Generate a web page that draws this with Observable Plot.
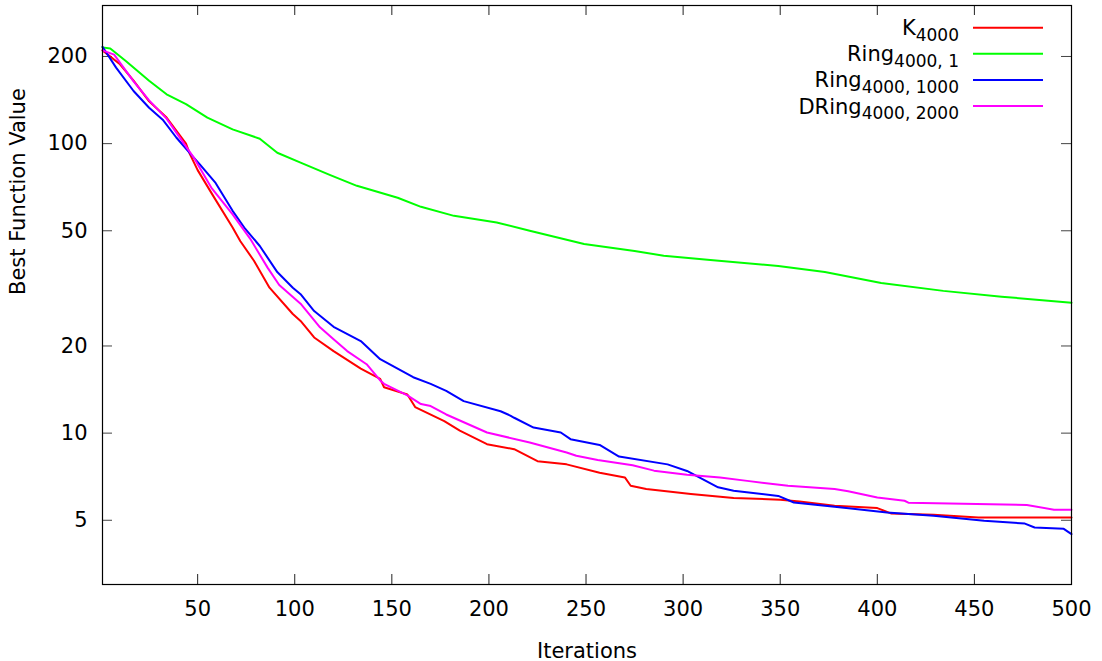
<!DOCTYPE html>
<html>
<head>
<meta charset="utf-8">
<script src="https://cdn.jsdelivr.net/npm/d3@7"></script>
<script src="https://cdn.jsdelivr.net/npm/@observablehq/plot@0.6"></script>
<style>
  html, body { margin: 0; padding: 0; background: #fff; }
  #chart svg { display: block; }
</style>
</head>
<body>
<div id="chart"></div>
<script>
// ---- data ----
const seriesNames = ["K", "Ring", "Ring", "DRing"];
const seriesSubs = ["4000", "4000, 1", "4000, 1000", "4000, 2000"];
const seriesColors = ["#ff0000", "#00ff00", "#0000ff", "#ff00ff"];

const kIt  = [1, 10, 17, 25, 34, 44, 46, 50, 58, 68, 72, 79, 87, 99, 103, 110, 120, 134, 144, 146, 158, 162, 177, 185, 199, 213, 225, 240, 257, 270, 273, 281, 304, 326, 350, 360, 378, 400, 407, 429, 452, 500];
const kVal = [210, 188, 165, 140, 123, 100, 92, 81, 66, 51.3, 46, 39.4, 31.8, 25.8, 24.4, 21.4, 19.2, 16.7, 15.4, 14.4, 13.6, 12.3, 11.0, 10.2, 9.16, 8.8, 8.0, 7.8, 7.3, 7.03, 6.58, 6.41, 6.16, 5.97, 5.89, 5.80, 5.61, 5.51, 5.28, 5.22, 5.11, 5.11];

const ring1It  = [1, 5, 13, 25, 34, 44, 55, 68, 82, 91, 103, 118, 132, 153, 165, 182, 204, 221, 249, 275, 290, 314, 349, 373, 402, 434, 464, 500];
const ring1Val = [215, 213, 193, 165, 148, 137, 123, 112, 104, 93, 86, 78, 71.5, 65, 60.5, 56.3, 53.4, 50, 45, 42.6, 41, 39.6, 37.8, 36, 33, 31, 29.6, 28.2];

const ring1000It  = [1, 8, 17, 25, 32, 39, 48, 51, 59, 68, 74, 82, 91, 99, 103, 110, 120, 134, 144, 161, 170, 178, 187, 206, 211, 213, 223, 237, 242, 257, 267, 292, 302, 318, 326, 349, 357, 378, 405, 429, 455, 476, 481, 496, 500];
const ring1000Val = [216, 183, 152, 133, 121, 105, 89.5, 85, 73.5, 58.6, 51.3, 44.3, 36, 31.8, 30.2, 26.4, 23.3, 20.8, 18.0, 15.6, 14.8, 14.0, 12.9, 11.9, 11.5, 11.3, 10.45, 10.05, 9.53, 9.1, 8.3, 7.8, 7.4, 6.5, 6.32, 6.07, 5.76, 5.57, 5.32, 5.18, 4.98, 4.87, 4.72, 4.67, 4.48];

const dring2000It  = [1, 7, 17, 25, 34, 48, 57, 68, 77, 86, 92, 103, 113, 120, 127, 137, 144, 146, 158, 165, 170, 178, 199, 221, 240, 245, 256, 274, 285, 302, 319, 333, 354, 378, 385, 400, 414, 416, 477, 491, 500];
const dring2000Val = [210, 203, 164, 141, 122, 89.5, 70.5, 57, 47, 37.3, 32.5, 28, 23.2, 21.1, 19.2, 17.3, 15.2, 14.8, 13.5, 12.6, 12.4, 11.6, 10.05, 9.28, 8.57, 8.35, 8.07, 7.75, 7.42, 7.18, 7.03, 6.84, 6.58, 6.41, 6.30, 5.99, 5.84, 5.75, 5.65, 5.44, 5.44];

const xTicks = [50, 100, 150, 200, 250, 300, 350, 400, 450, 500];
const yTicks = [5, 10, 20, 50, 100, 200];

// ---- build tables ----
const allIts = [kIt, ring1It, ring1000It, dring2000It];
const allVals = [kVal, ring1Val, ring1000Val, dring2000Val];
const series = allIts.map((its, s) => its.map((it, i) => ({it, v: allVals[s][i]})));

// ---- layout ----
const W = 1102, H = 661;
const mL = 102, mR = 31, mT = 5, mB = 77;
const frameW = W - mL - mR, frameH = H - mT - mB;
const tick = 10;
const font = "DejaVu Sans, Liberation Sans, sans-serif";

const chart = Plot.plot({
  width: W,
  height: H,
  marginLeft: mL,
  marginRight: mR,
  marginTop: mT,
  marginBottom: mB,
  style: {fontFamily: font, fontSize: "21px", background: "#fff", color: "#000"},
  x: {domain: [1, 500]},
  y: {type: "log", domain: [3, 300]},
  marks: [
    // inward tick marks on all four sides
    Plot.tickX(xTicks, {x: d => d, insetTop: frameH - tick, stroke: "#222", strokeWidth: 1}),
    Plot.tickX(xTicks, {x: d => d, insetBottom: frameH - tick, stroke: "#222", strokeWidth: 1}),
    Plot.tickY(yTicks, {y: d => d, insetRight: frameW - tick, stroke: "#444", strokeWidth: 1}),
    Plot.tickY(yTicks, {y: d => d, insetLeft: frameW - tick, stroke: "#444", strokeWidth: 1}),
    Plot.axisX(xTicks, {tickSize: 0, tickPadding: 17, label: null, tickFormat: d => String(d), fontSize: 21}),
    Plot.axisY(yTicks, {tickSize: 0, tickPadding: 15, label: null, tickFormat: d => String(d), fontSize: 21}),
    ...series.map((data, s) => Plot.line(data, {x: "it", y: "v", stroke: seriesColors[s], strokeWidth: 2})),
    Plot.frame({stroke: "#000", strokeWidth: 1.2}),
    Plot.text(["Iterations"], {frameAnchor: "bottom", dy: 73, text: d => d, fontSize: 21, fill: "#000"}),
    Plot.text(["Best Function Value"], {frameAnchor: "left", dx: -84, rotate: -90, text: d => d, fontSize: 21, fill: "#000"})
  ]
});

// ---- legend (top-right, inside the frame) ----
const svg = d3.select(chart);
const legend = svg.append("g").attr("font-family", font);
const textRight = 959, lineX1 = 973, lineX2 = 1043, row0 = 27.7, rowStep = 26.1;
seriesNames.forEach((name, i) => {
  const y = row0 + i * rowStep;
  const t = legend.append("text")
    .attr("x", textRight)
    .attr("y", y + 7.5)
    .attr("text-anchor", "end")
    .attr("font-size", 21)
    .attr("fill", "#000");
  t.append("tspan").text(name);
  t.append("tspan").attr("dy", 5.5).attr("font-size", 17).text(seriesSubs[i]);
  legend.append("line")
    .attr("x1", lineX1).attr("x2", lineX2)
    .attr("y1", y).attr("y2", y)
    .attr("stroke", seriesColors[i])
    .attr("stroke-width", 2);
});

document.getElementById("chart").appendChild(chart);
</script>
</body>
</html>
